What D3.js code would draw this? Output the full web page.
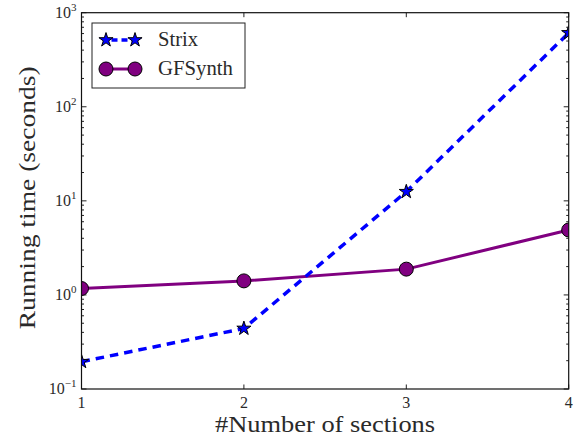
<!DOCTYPE html>
<html>
<head>
<meta charset="utf-8">
<script src="https://cdn.jsdelivr.net/npm/d3@7"></script>
<style>
  body { margin: 0; background: #fff; }
  text { font-family: "Liberation Serif", "DejaVu Serif", serif; fill: #2a2a2a; }
</style>
</head>
<body>
<div id="chart"></div>
<script>
// values
const sections = [1, 2, 3, 4];
const strixTimes = [0.195, 0.44, 12.5, 610];
const gfsynthTimes = [1.17, 1.41, 1.88, 4.9];
const yTickExponents = [-1, 0, 1, 2, 3];
const seriesNames = ["Strix", "GFSynth"];

const width = 580;
const height = 440;
const margin = { top: 12.7, right: 11.3, bottom: 51, left: 81.5 };
const innerW = width - margin.left - margin.right;
const innerH = height - margin.top - margin.bottom;

const svg = d3.select("#chart").append("svg")
  .attr("width", width)
  .attr("height", height);

const g = svg.append("g")
  .attr("transform", `translate(${margin.left}, ${margin.top})`);

const x = d3.scaleLinear().domain([1, 4]).range([0, innerW]);
const y = d3.scaleLog().domain([0.1, 1000]).range([innerH, 0]);

// minor ticks 2..9 in every decade
const minorTicks = [];
yTickExponents.slice(0, -1).forEach(e => {
  for (let k = 2; k <= 9; k++) minorTicks.push(k * Math.pow(10, e));
});
const majorTicks = yTickExponents.map(e => Math.pow(10, e));

const tickColor = "#222";

// y ticks, inward on left and right
[0, innerW].forEach((xPos, side) => {
  const dir = side === 0 ? 1 : -1;
  majorTicks.forEach(v => {
    g.append("line")
      .attr("x1", xPos).attr("x2", xPos + dir * 5)
      .attr("y1", y(v)).attr("y2", y(v))
      .style("stroke", tickColor).style("stroke-width", 1);
  });
  minorTicks.forEach(v => {
    g.append("line")
      .attr("x1", xPos).attr("x2", xPos + dir * 2.5)
      .attr("y1", y(v)).attr("y2", y(v))
      .style("stroke", tickColor).style("stroke-width", 1);
  });
});

// x ticks, inward on bottom and top
sections.forEach(v => {
  g.append("line")
    .attr("x1", x(v)).attr("x2", x(v))
    .attr("y1", innerH).attr("y2", innerH - 4.5)
    .style("stroke", tickColor);
  g.append("line")
    .attr("x1", x(v)).attr("x2", x(v))
    .attr("y1", 0).attr("y2", 4.5)
    .style("stroke", tickColor);
});

// x tick labels
g.selectAll(".xlabel")
  .data(sections)
  .join("text")
  .attr("class", "xlabel")
  .attr("x", d => x(d))
  .attr("y", innerH + 19)
  .style("text-anchor", "middle")
  .style("font-size", "16px")
  .text(d => d);

// y tick labels: 10 with superscript exponent
yTickExponents.forEach(e => {
  const t = g.append("text")
    .attr("x", -5)
    .attr("y", y(Math.pow(10, e)) + 5)
    .style("text-anchor", "end")
    .style("font-size", "16px");
  t.append("tspan").text("10");
  t.append("tspan")
    .attr("dy", -7)
    .style("font-size", "11px")
    .text(e < 0 ? "\u2212" + Math.abs(e) : e);
});

// clip marks to the axes box
svg.append("defs").append("clipPath")
  .attr("id", "plot-clip")
  .append("rect")
  .attr("width", innerW)
  .attr("height", innerH);

const plot = g.append("g").attr("clip-path", "url(#plot-clip)");

const line = d3.line()
  .x((d, i) => x(sections[i]))
  .y(d => y(d));

const strixColor = "#0000ff";
const gfColor = "#800080";
const starPath = d3.symbol().type(d3.symbolStar).size(62);

// GFSynth
plot.append("path")
  .datum(gfsynthTimes)
  .attr("d", line)
  .style("fill", "none")
  .style("stroke", gfColor)
  .style("stroke-width", 3);

plot.selectAll(".gf-dot")
  .data(gfsynthTimes)
  .join("circle")
  .attr("class", "gf-dot")
  .attr("cx", (d, i) => x(sections[i]))
  .attr("cy", d => y(d))
  .attr("r", 7)
  .style("fill", gfColor)
  .style("stroke", "#000")
  .style("stroke-width", 1);

// Strix
plot.append("path")
  .datum(strixTimes)
  .attr("d", line)
  .style("fill", "none")
  .style("stroke", strixColor)
  .style("stroke-width", 3.5)
  .style("stroke-dasharray", "8.5,6");

plot.selectAll(".strix-star")
  .data(strixTimes)
  .join("path")
  .attr("class", "strix-star")
  .attr("transform", (d, i) => `translate(${x(sections[i])}, ${y(d)})`)
  .attr("d", starPath)
  .style("fill", strixColor)
  .style("stroke", "#000")
  .style("stroke-width", 1);

// axes frame
g.append("rect")
  .attr("width", innerW)
  .attr("height", innerH)
  .style("fill", "none")
  .style("stroke", "#111")
  .style("stroke-width", 1.2);

// axis titles
svg.append("text")
  .attr("x", margin.left + innerW / 2)
  .attr("y", 432)
  .style("text-anchor", "middle")
  .style("font-size", "24px")
  .attr("textLength", 220)
  .attr("lengthAdjust", "spacingAndGlyphs")
  .text("#Number of sections");

svg.append("text")
  .attr("transform", `translate(35, ${margin.top + innerH / 2 - 3}) rotate(-90)`)
  .style("text-anchor", "middle")
  .style("font-size", "24px")
  .attr("textLength", 263)
  .attr("lengthAdjust", "spacingAndGlyphs")
  .text("Running time (seconds)");

// legend
const legend = svg.append("g").attr("transform", "translate(92, 23)");
legend.append("rect")
  .attr("width", 153)
  .attr("height", 65)
  .style("fill", "#fff")
  .style("stroke", "#222")
  .style("stroke-width", 1);

const legendRows = [
  { name: seriesNames[0], color: strixColor, dash: true, marker: "star", cy: 17, len: 40 },
  { name: seriesNames[1], color: gfColor, dash: false, marker: "circle", cy: 46, len: 75 }
];

legendRows.forEach(row => {
  legend.append("line")
    .attr("x1", 14).attr("x2", 43)
    .attr("y1", row.cy).attr("y2", row.cy)
    .style("stroke", row.color)
    .style("stroke-width", row.dash ? 3.5 : 3)
    .style("stroke-dasharray", row.dash ? "6,4" : null)
    .attr("stroke-dashoffset", row.dash ? -5.5 : null);

  [14, 43].forEach(mx => {
    if (row.marker === "star") {
      legend.append("path")
        .attr("transform", `translate(${mx}, ${row.cy})`)
        .attr("d", starPath)
        .style("fill", row.color)
        .style("stroke", "#000")
        .style("stroke-width", 1);
    } else {
      legend.append("circle")
        .attr("cx", mx).attr("cy", row.cy).attr("r", 7)
        .style("fill", row.color)
        .style("stroke", "#000")
        .style("stroke-width", 1);
    }
  });

  legend.append("text")
    .attr("x", 66)
    .attr("y", row.cy + 6)
    .style("font-size", "20px")
    .attr("textLength", row.len)
    .attr("lengthAdjust", "spacingAndGlyphs")
    .text(row.name);
});
</script>
</body>
</html>
